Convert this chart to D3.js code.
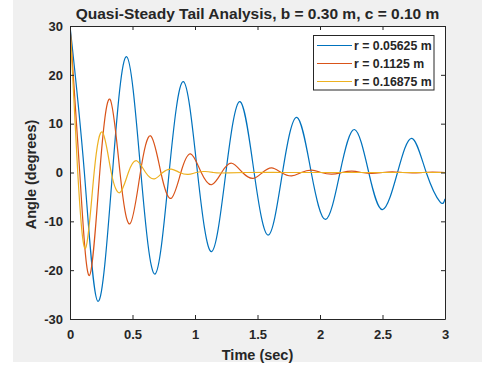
<!DOCTYPE html>
<html>
<head>
<meta charset="utf-8">
<script src="https://cdn.jsdelivr.net/npm/d3@7"></script>
<style>
  body { margin: 0; background: #fff; }
  text { font-family: Arial, "Liberation Sans", sans-serif; font-weight: bold; fill: #262626; }
</style>
</head>
<body>
<div id="chart"></div>
<script>
// values (time in s, angle in degrees)
const seriesNames = ["r = 0.05625 m", "r = 0.1125 m", "r = 0.16875 m"];

const blueTime  = [0, 0.115, 0.224, 0.34, 0.453, 0.567, 0.68, 0.793, 0.907, 1.02, 1.133, 1.247, 1.36, 1.473,
                   1.587, 1.70, 1.815, 1.93, 2.045, 2.16, 2.275, 2.39, 2.50, 2.62, 2.735, 2.85, 2.96, 3.0];
const blueAngle = [30, 0, -26.4, 0, 23.7, 0, -20.8, 0, 18.6, 0, -16.2, 0, 14.5, 0,
                   -12.8, 0, 11.3, 0, -9.6, 0, 8.8, 0, -7.6, 0, 7.0, 0, -6.0, -5.4];

const orangeTime  = [0, 0.078, 0.155, 0.238, 0.32, 0.40, 0.48, 0.563, 0.645, 0.727, 0.808, 0.887, 0.965, 1.05,
                     1.133, 1.213, 1.293, 1.38, 1.465, 1.54, 1.613, 1.69, 1.773, 1.85, 1.933, 2.01, 2.095,
                     2.175, 2.255, 2.335, 2.415, 2.5, 2.58, 2.66, 2.74, 2.82, 2.9, 3.0];
const orangeAngle = [30, 0, -21.1, 0, 15.0, 0, -10.5, 0, 7.5, 0, -5.3, 0, 3.8, 0,
                     -2.5, 0, 1.9, 0, -1.2, 0, 0.95, 0, -0.7, 0, 0.5, 0, -0.35,
                     0, 0.27, 0, -0.2, 0, 0.14, 0, -0.1, 0, 0.07, 0];

const yellowTime  = [0, 0.062, 0.125, 0.193, 0.261, 0.33, 0.40, 0.467, 0.533, 0.605, 0.675, 0.742, 0.81,
                     0.877, 0.945, 1.01, 1.08, 1.147, 1.215, 1.4, 1.7, 2.0, 2.3, 2.6, 3.0];
const yellowAngle = [30, 0, -15.5, 0, 8.2, 0, -4.1, 0, 2.4, 0, -1.3, 0, 0.7,
                     0, -0.4, 0, 0.2, 0, -0.1, 0, 0, 0, 0, 0, 0];

const xTicks = [0, 0.5, 1, 1.5, 2, 2.5, 3];
const yTicks = [-30, -20, -10, 0, 10, 20, 30];

const colors = ["#0072BD", "#D95319", "#EDB120"];

const width = 482, height = 366;
const margin = { left: 70, right: 37, top: 26, bottom: 47 };

const svg = d3.select("#chart").append("svg")
  .attr("width", width)
  .attr("height", height);

// figure background
svg.append("rect")
  .attr("x", 13).attr("y", 0)
  .attr("width", width - 13).attr("height", 362)
  .attr("fill", "#f0f0f0");

const x = d3.scaleLinear().domain([0, 3]).range([margin.left, width - margin.right]);
const y = d3.scaleLinear().domain([-30, 30]).range([height - margin.bottom, margin.top]);

svg.append("rect")
  .attr("x", x(0)).attr("y", y(30))
  .attr("width", x(3) - x(0)).attr("height", y(-30) - y(30))
  .attr("fill", "#fff");

svg.append("defs").append("clipPath").attr("id", "plotClip")
  .append("rect")
  .attr("x", x(0)).attr("y", y(30) - 1)
  .attr("width", x(3) - x(0)).attr("height", y(-30) - y(30) + 2);

const series = [
  { name: seriesNames[0], pts: d3.zip(blueTime, blueAngle) },
  { name: seriesNames[1], pts: d3.zip(orangeTime, orangeAngle) },
  { name: seriesNames[2], pts: d3.zip(yellowTime, yellowAngle) }
];

const line = d3.line()
  .x(d => x(d[0]))
  .y(d => y(d[1]))
  .curve(d3.curveNatural);

svg.append("g")
  .attr("clip-path", "url(#plotClip)")
  .selectAll("path")
  .data(series)
  .join("path")
  .attr("fill", "none")
  .attr("stroke", (d, i) => colors[i])
  .attr("stroke-width", 1.2)
  .attr("d", d => line(d.pts));

// axes, ticks pointing inward on all four sides
const axisColor = "#262626";
const plainFmt = d => String(d);   // MATLAB uses a plain hyphen for negatives

function styleAxis(g, hideLabels) {
  g.select(".domain").attr("stroke", axisColor);
  g.selectAll(".tick line").attr("stroke", axisColor);
  g.selectAll(".tick text")
    .attr("fill", axisColor)
    .style("font-size", "13px")
    .style("font-family", "Arial, 'Liberation Sans', sans-serif")
    .style("font-weight", "bold");
  if (hideLabels) g.selectAll(".tick text").remove();
}

svg.append("g")
  .attr("transform", `translate(0,${y(-30)})`)
  .call(d3.axisBottom(x).tickValues(xTicks).tickFormat(plainFmt).tickSizeInner(-4).tickSizeOuter(0).tickPadding(11))
  .call(g => styleAxis(g, false));

svg.append("g")
  .attr("transform", `translate(0,${y(30)})`)
  .call(d3.axisTop(x).tickValues(xTicks).tickSizeInner(-4).tickSizeOuter(0))
  .call(g => styleAxis(g, true));

svg.append("g")
  .attr("transform", `translate(${x(0)},0)`)
  .call(d3.axisLeft(y).tickValues(yTicks).tickFormat(plainFmt).tickSizeInner(-4).tickSizeOuter(0).tickPadding(7))
  .call(g => styleAxis(g, false));

svg.append("g")
  .attr("transform", `translate(${x(3)},0)`)
  .call(d3.axisRight(y).tickValues(yTicks).tickSizeInner(-4).tickSizeOuter(0))
  .call(g => styleAxis(g, true));

// titles
svg.append("text")
  .attr("x", (x(0) + x(3)) / 2).attr("y", 19)
  .attr("text-anchor", "middle")
  .style("font-size", "15.5px")
  .text("Quasi-Steady Tail Analysis, b = 0.30 m, c = 0.10 m");

svg.append("text")
  .attr("x", (x(0) + x(3)) / 2).attr("y", 359.5)
  .attr("text-anchor", "middle")
  .style("font-size", "14.5px")
  .text("Time (sec)");

svg.append("text")
  .attr("transform", `translate(35.5,${y(0) + 2}) rotate(-90)`)
  .attr("text-anchor", "middle")
  .style("font-size", "14.5px")
  .text("Angle (degrees)");

// legend
const legend = svg.append("g").attr("transform", "translate(313.5,35.5)");
legend.append("rect")
  .attr("width", 120.5).attr("height", 54.5)
  .attr("fill", "#fff")
  .attr("stroke", axisColor)
  .attr("stroke-width", 1);

const rows = legend.selectAll("g.row")
  .data(series)
  .join("g")
  .attr("class", "row")
  .attr("transform", (d, i) => `translate(0,${10 + i * 18})`);

rows.append("line")
  .attr("x1", 3.5).attr("x2", 38.5)
  .attr("stroke", (d, i) => colors[i])
  .attr("stroke-width", 1.2);

rows.append("text")
  .attr("x", 40.5).attr("y", 4.5)
  .style("font-size", "12.3px")
  .text(d => d.name);
</script>
</body>
</html>
